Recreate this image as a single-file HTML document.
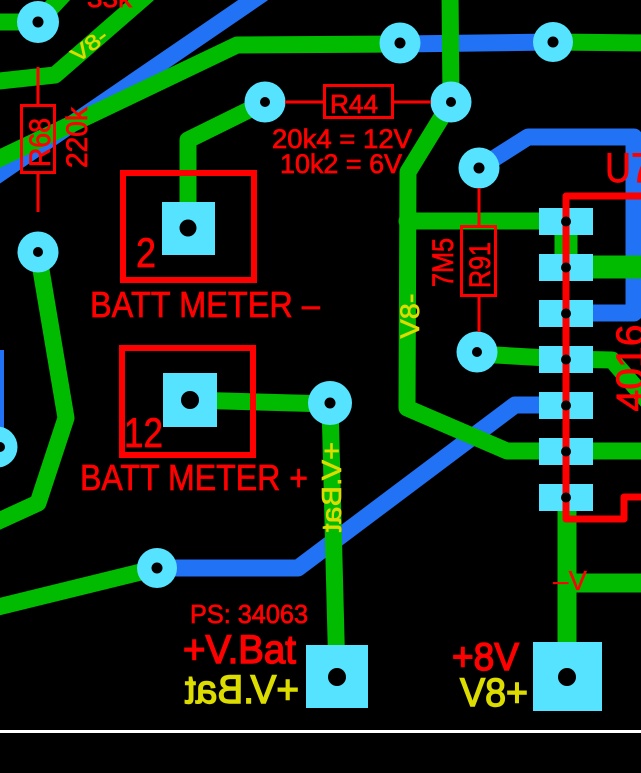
<!DOCTYPE html>
<html><head><meta charset="utf-8">
<style>html,body{margin:0;padding:0;background:#000;}svg{display:block}</style>
</head>
<body>
<svg width="641" height="773" viewBox="0 0 641 773" xmlns="http://www.w3.org/2000/svg">
<rect width="641" height="773" fill="#000"/>

<!-- blue (bottom copper) -->
<g fill="none" stroke="#2272F5" stroke-width="17" stroke-linecap="round" stroke-linejoin="round">
  <path d="M-10,180 L262,-6"/>
  <path d="M400,44 L553,42"/>
  <path d="M479,168 L528,137 L634,137 L634,313 L566,313"/>
  <path d="M157,568 L298,568 L515,405 L566,405"/>
</g>
<rect x="0" y="350" width="4" height="95" fill="#2272F5"/>

<!-- green (top copper) -->
<g fill="none" stroke="#00BB00" stroke-width="17" stroke-linecap="round" stroke-linejoin="round">
  <path d="M-10,22 L38,22 L64,-6"/>
  <path d="M-10,82 L55,75 L147,-5"/>
  <path d="M-10,163 L237,45 L400,44"/>
  <path d="M553,42 L650,43"/>
  <path d="M450,-10 L451,102 L408,172 L407,408 L507,451 L650,451"/>
  <path d="M407,221 L566,221"/>
  <path d="M477,354 L566,359 L612,360 L650,404"/>
  <path d="M190,400 L330,404 L337,677"/>
  <path d="M265,102 L188,140 L188,228"/>
  <path d="M38,252 L66,418 L38,503 L-10,525"/>
  <path d="M157,568 L-10,609"/>
</g>
<g fill="none" stroke="#00BB00" stroke-width="19" stroke-linecap="round" stroke-linejoin="round">
  <path d="M567,497 L567,676"/>
  <path d="M567,583 L650,583"/>
</g>
<g fill="none" stroke="#00BB00" stroke-width="23" stroke-linejoin="round">
  <path d="M566,221 L566,267 L650,267"/>
</g>

<!-- vias -->
<g fill="#55E3FF">
  <circle cx="38" cy="22" r="21"/>
  <circle cx="265" cy="102" r="20.5"/>
  <circle cx="400" cy="43" r="20.5"/>
  <circle cx="553" cy="42" r="20"/>
  <circle cx="451" cy="102" r="20.5"/>
  <circle cx="479" cy="168" r="20.5"/>
  <circle cx="477" cy="352" r="20.5"/>
  <circle cx="38" cy="252" r="20.5"/>
  <circle cx="-3" cy="447" r="20.5"/>
  <circle cx="330" cy="403" r="22"/>
  <circle cx="157" cy="568" r="20"/>
  <!-- pads -->
  <rect x="162" y="202" width="53" height="53"/>
  <rect x="163" y="373" width="54" height="54"/>
  <rect x="306" y="645" width="62" height="63"/>
  <rect x="533" y="642" width="69" height="69"/>
  <rect x="539" y="208" width="54" height="27"/>
  <rect x="539" y="254" width="54" height="27"/>
  <rect x="539" y="300" width="54" height="27"/>
  <rect x="539" y="346" width="54" height="27"/>
  <rect x="539" y="392" width="54" height="27"/>
  <rect x="539" y="438" width="54" height="27"/>
  <rect x="539" y="484" width="54" height="27"/>
</g>
<g fill="#000">
  <circle cx="38" cy="22" r="5.5"/>
  <circle cx="265" cy="102" r="5"/>
  <circle cx="400" cy="43" r="5.5"/>
  <circle cx="553" cy="42" r="5.5"/>
  <circle cx="451" cy="102" r="5"/>
  <circle cx="479" cy="168" r="5.5"/>
  <circle cx="477" cy="352" r="5"/>
  <circle cx="38" cy="252" r="5"/>
  <circle cx="0" cy="447" r="5"/>
  <circle cx="330" cy="403" r="5.5"/>
  <circle cx="157" cy="568" r="5.5"/>
  <circle cx="188" cy="228" r="8.5"/>
  <circle cx="190" cy="400" r="9"/>
  <circle cx="337" cy="677" r="9"/>
  <circle cx="567" cy="677" r="9"/>
</g>

<!-- red silkscreen -->
<g fill="none" stroke="#FF0000" stroke-width="3">
  <rect x="21.5" y="105.5" width="33" height="67"/>
  <path d="M38,67 V105.5 M38,172.5 V212"/>
  <rect x="324.5" y="85.5" width="68" height="32"/>
  <path d="M285,102 H324.5 M392.5,102 H431"/>
  <rect x="461.5" y="226.5" width="34" height="69"/>
  <path d="M479,188 V226.5 M479,295.5 V332"/>
</g>
<g fill="none" stroke="#FF0000" stroke-width="6">
  <rect x="123" y="173" width="131" height="107"/>
  <rect x="122" y="348" width="131" height="107"/>
</g>
<path d="M650,196 H566 V519 H624 V497 H650" fill="none" stroke="#FF0000" stroke-width="7" stroke-linejoin="round"/>
<g fill="#000">
  <circle cx="566" cy="221.5" r="5"/>
  <circle cx="566" cy="267.5" r="5"/>
  <circle cx="566" cy="313.5" r="5"/>
  <circle cx="566" cy="359.5" r="5"/>
  <circle cx="566" cy="405.5" r="5"/>
  <circle cx="566" cy="451.5" r="5"/>
  <circle cx="566" cy="497.5" r="5"/>
</g>

<g fill="#FF0000" stroke="#FF0000" stroke-width="0.7" font-family="'Liberation Sans', sans-serif">
  <text x="87" y="7" font-size="26" textLength="45" lengthAdjust="spacingAndGlyphs">33k</text>
  <text transform="translate(50,142.5) rotate(-90)" text-anchor="middle" font-size="30" textLength="49" lengthAdjust="spacingAndGlyphs">R68</text>
  <text transform="translate(87,137.5) rotate(-90)" text-anchor="middle" font-size="30" textLength="61" lengthAdjust="spacingAndGlyphs">220k</text>
  <text x="354" y="113" text-anchor="middle" font-size="26" textLength="48" lengthAdjust="spacingAndGlyphs">R44</text>
  <text x="272" y="148" font-size="27" textLength="140" lengthAdjust="spacingAndGlyphs">20k4 = 12V</text>
  <text x="280" y="173" font-size="27" textLength="122" lengthAdjust="spacingAndGlyphs">10k2 = 6V</text>
  <text x="136" y="267" font-size="42" textLength="20" lengthAdjust="spacingAndGlyphs">2</text>
  <text x="124" y="447" font-size="42" textLength="39" lengthAdjust="spacingAndGlyphs">12</text>
  <text x="90" y="317" font-size="36" textLength="230" lengthAdjust="spacingAndGlyphs">BATT METER –</text>
  <text x="80" y="490" font-size="36" textLength="228" lengthAdjust="spacingAndGlyphs">BATT METER +</text>
  <text x="190" y="623" font-size="26" textLength="118" lengthAdjust="spacingAndGlyphs">PS: 34063</text>
  <text x="183" y="663" font-size="40" stroke-width="1.4" textLength="113" lengthAdjust="spacingAndGlyphs">+V.Bat</text>
  <text x="452" y="670" font-size="39" stroke-width="1.4" textLength="67" lengthAdjust="spacingAndGlyphs">+8V</text>
  <text x="553" y="590" font-size="28" stroke-width="0.3" textLength="34" lengthAdjust="spacingAndGlyphs">–V</text>
  <text x="605" y="182" font-size="42" textLength="46" lengthAdjust="spacingAndGlyphs">U7</text>
  <text transform="translate(644,368) rotate(-90)" text-anchor="middle" font-size="40" textLength="87" lengthAdjust="spacingAndGlyphs">4016</text>
  <text transform="translate(490,265) rotate(-90)" text-anchor="middle" font-size="30" textLength="46" lengthAdjust="spacingAndGlyphs">R91</text>
  <text transform="translate(453,262.5) rotate(-90)" text-anchor="middle" font-size="30" textLength="49" lengthAdjust="spacingAndGlyphs">7M5</text>
</g>

<!-- yellow silkscreen -->
<g fill="#DCDC00" stroke="#DCDC00" stroke-width="0.6" font-family="'Liberation Sans', sans-serif">
  <text transform="translate(93.6,50.9) rotate(-38)" text-anchor="middle" font-size="21" textLength="40" lengthAdjust="spacingAndGlyphs">V8-</text>
  <text transform="translate(419,316) rotate(-90)" text-anchor="middle" font-size="27" textLength="45" lengthAdjust="spacingAndGlyphs">V8-</text>
  <text transform="translate(341,487) rotate(-90) scale(-1,1)" text-anchor="middle" font-size="28" textLength="90" lengthAdjust="spacingAndGlyphs">+V.Bat</text>
  <text transform="translate(242,703) scale(-1,1)" text-anchor="middle" font-size="40" stroke-width="1.4" textLength="114" lengthAdjust="spacingAndGlyphs">+V.Bat</text>
  <text x="460" y="706" font-size="40" stroke-width="1.4" textLength="68" lengthAdjust="spacingAndGlyphs">V8+</text>
</g>

<rect x="0" y="730" width="641" height="3" fill="#FFFFFF"/>
</svg>
</body></html>
